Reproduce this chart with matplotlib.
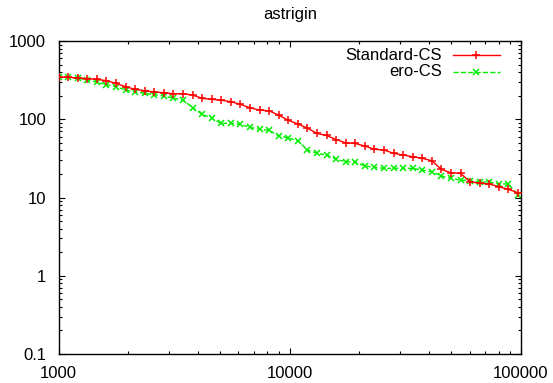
import numpy as np
import matplotlib
matplotlib.use("Agg")
import matplotlib.pyplot as plt
from matplotlib.lines import Line2D
from matplotlib.ticker import LogLocator, FixedLocator, NullFormatter

plt.rcParams['font.family'] = ['Liberation Sans', 'DejaVu Sans']

title = "astrigin"
series_names = ["Standard-CS", "ero-CS"]

# evaluations (geometric steps of 10%)
evals = [1000 * 1.1 ** k for k in range(49)]

standard_cs = [345, 344, 337, 330, 324, 311, 288, 261, 241, 232, 223, 218, 212, 212,
               204, 185, 180, 175, 168, 155, 140, 131, 128, 113, 97, 87, 77, 66, 62,
               55, 50, 49, 45.5, 41.3, 40.5, 36.7, 34.9, 33.2, 31.7, 29.5, 22.9, 20.7,
               20.4, 15.9, 15.2, 14.9, 13.7, 12.7, 11.5]
ero_cs = [345, 344, 337, 317, 299, 276, 261, 236, 223, 215, 206, 198, 186, 176,
          141, 116, 103, 88.7, 88.7, 86, 78.8, 74.4, 72.2, 61.6, 57.5, 53.2, 40.5,
          36.7, 34.9, 30.7, 28.7, 28.2, 25.3, 24.3, 23.6, 23.6, 23.6, 23.6, 22.4,
          21.4, 18.8, 17.6, 16.7, 16.4, 15.8, 15.8, 14.9, 14.9, 10.8]

xticks = [1000, 10000, 100000]
xticklabels = ["1000", "10000", "100000"]
yticks = [0.1, 1, 10, 100, 1000]
yticklabels = ["0.1", "1", "10", "100", "1000"]

W, H = 553, 383
fig = plt.figure(figsize=(W / 100, H / 100), dpi=100)
left, right, top, bottom = 58.5, 521, 41, 354
ax = fig.add_axes([left / W, 1 - bottom / H, (right - left) / W, (bottom - top) / H])

red = "#ff0000"
green = "#00ee00"
ax.plot(evals, standard_cs, color=red, lw=1.0, marker="+", ms=6, mew=1.1,
        label=series_names[0], zorder=3)
ax.plot(evals, ero_cs, color=green, lw=1.0, ls=(0, (3, 2)), marker="x", ms=4.5, mew=1.1,
        label=series_names[1], zorder=2)

ax.set_xscale("log")
ax.set_yscale("log")
ax.set_xlim(1000, 100000)
ax.set_ylim(0.1, 1000)
ax.xaxis.set_major_locator(FixedLocator(xticks))
ax.set_xticklabels(xticklabels)
ax.yaxis.set_major_locator(FixedLocator(yticks))
ax.set_yticklabels(yticklabels)
ax.xaxis.set_minor_locator(LogLocator(base=10, subs=np.arange(2, 10)))
ax.yaxis.set_minor_locator(LogLocator(base=10, subs=np.arange(2, 10)))
ax.xaxis.set_minor_formatter(NullFormatter())
ax.yaxis.set_minor_formatter(NullFormatter())

ax.tick_params(which="both", direction="in", top=True, right=True, labelsize=12,
               color="black", width=0.8)
ax.tick_params(which="major", length=4.5)
ax.tick_params(which="minor", length=2.5)
ax.tick_params(axis="y", which="major", pad=9)
ax.tick_params(axis="x", which="major", pad=8.5)
for s in ax.spines.values():
    s.set_linewidth(1.0)
    s.set_color("black")

fig.text((left + right) / 2 / W, 1 - 15 / H, title, ha="center", va="center", fontsize=12)

# gnuplot-style key (right-aligned text, sample to the right)
handles = [ax.lines[0], ax.lines[1]]
rows_y = [55, 72]
for h, name, yy in zip(handles, series_names, rows_y):
    ty = 1 - yy / H
    fig.text(442 / W, ty, name, ha="right", va="center", fontsize=12)
    ln = Line2D([453 / W, 500 / W], [ty, ty], transform=fig.transFigure,
                color=h.get_color(), lw=h.get_linewidth(), ls=h.get_linestyle())
    fig.add_artist(ln)
    mk = Line2D([476.5 / W], [ty], transform=fig.transFigure, color=h.get_color(),
                marker=h.get_marker(), ms=h.get_markersize(), mew=h.get_markeredgewidth(),
                ls="none")
    fig.add_artist(mk)

fig.savefig("out.png", dpi=100)
